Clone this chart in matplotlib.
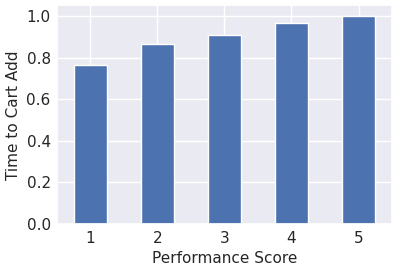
import matplotlib
matplotlib.use("Agg")
import matplotlib.pyplot as plt
import seaborn as sns

# values
scores = ["1", "2", "3", "4", "5"]
time_to_cart = [0.766, 0.867, 0.906, 0.964, 1.0]

sns.set_theme(style="darkgrid")
plt.rcParams["font.family"] = ["DejaVu Sans"]

fig = plt.figure(figsize=(3.98, 2.72), dpi=100)
ax = fig.add_axes([0.143, 0.176, 0.842, 0.804])

ax.bar(range(len(scores)), time_to_cart, width=0.5, color="#4c72b0")
ax.set_xticks(range(len(scores)))
ax.set_xticklabels(scores)
ax.set_xlim(-0.5, len(scores) - 0.5)
ax.set_ylim(0, 1.05)
ax.set_yticks([0.0, 0.2, 0.4, 0.6, 0.8, 1.0])
ax.tick_params(axis="y", labelsize=11, length=0, pad=4.5)
ax.tick_params(axis="x", labelsize=11, length=0, pad=5)
ax.set_xlabel("Performance Score", fontsize=11, labelpad=3.5)
ax.set_ylabel("Time to Cart Add", fontsize=11, labelpad=4)

fig.savefig("out.png", dpi=100)
